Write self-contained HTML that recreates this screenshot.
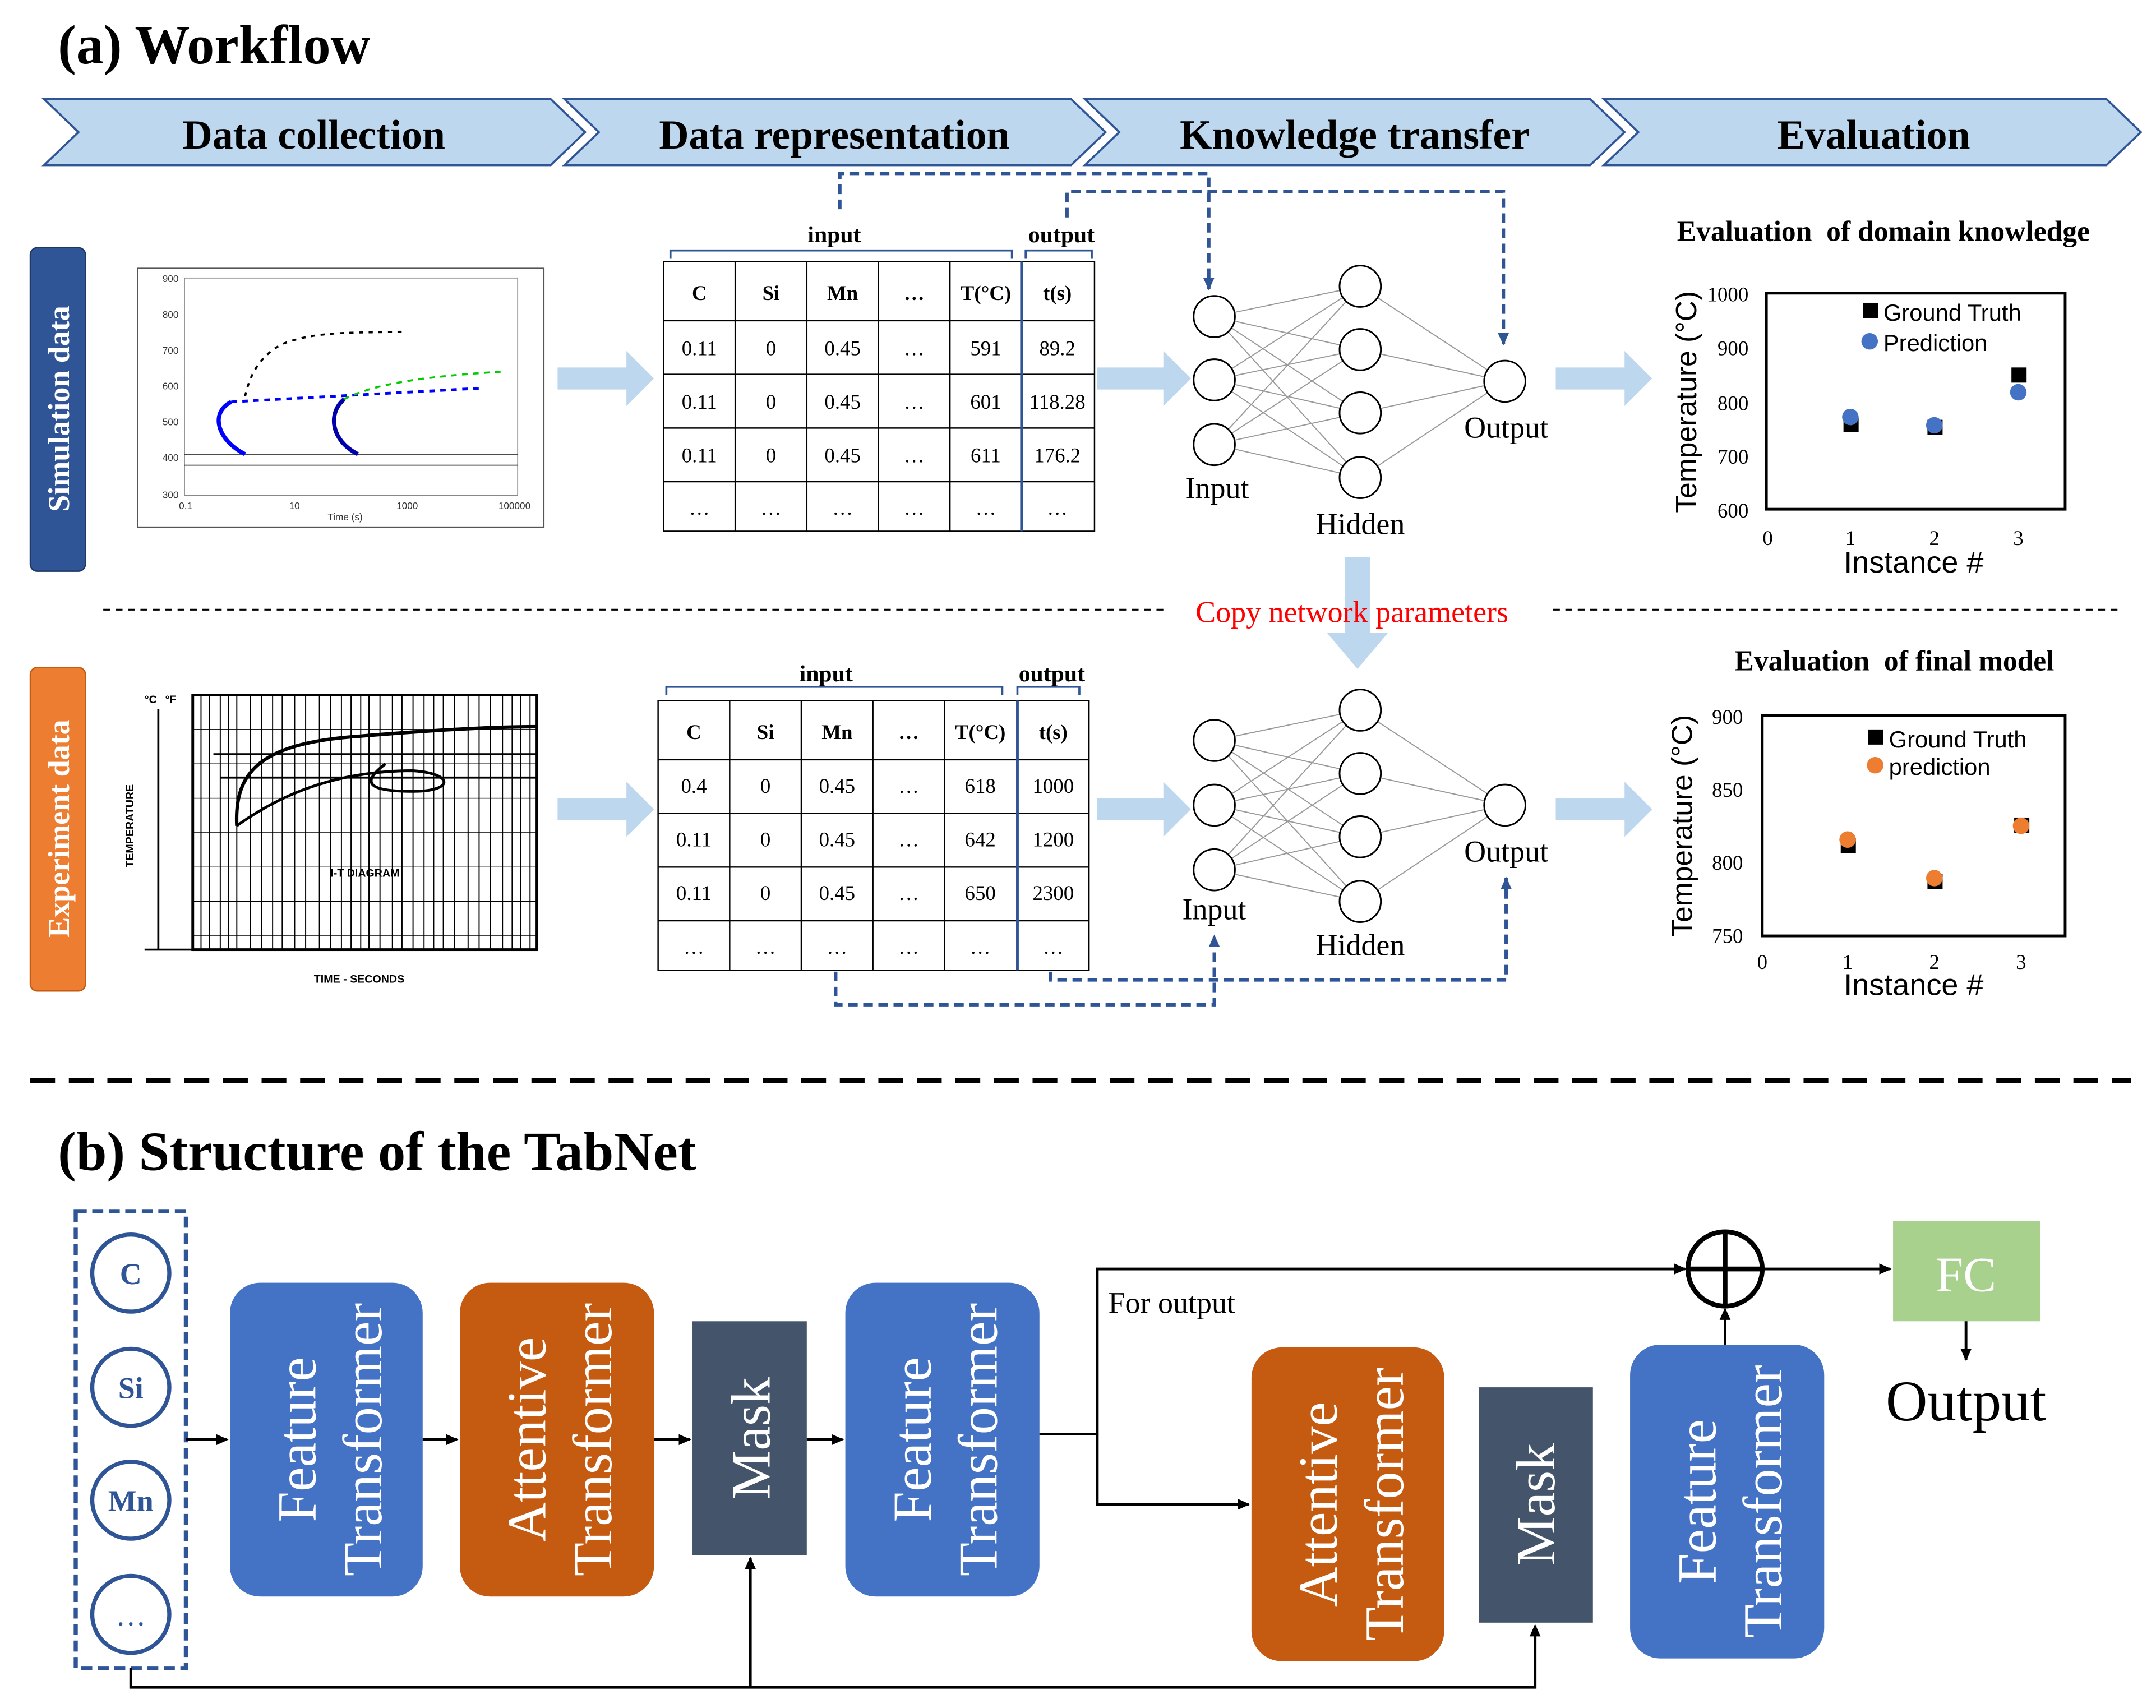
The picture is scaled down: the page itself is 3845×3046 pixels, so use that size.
<!DOCTYPE html>
<html><head><meta charset="utf-8"><style>html,body{margin:0;padding:0;background:#fff}svg{display:block}</style></head><body>
<svg width="3845" height="3046" viewBox="0 0 1566 1241" preserveAspectRatio="none" xmlns="http://www.w3.org/2000/svg" font-family="Liberation Serif, serif">
<defs>
<marker id="ab" markerWidth="10" markerHeight="10" refX="8" refY="5" orient="auto" markerUnits="userSpaceOnUse"><path d="M0,1 L9,5 L0,9 z" fill="#2f5597"/></marker>
<marker id="ak" markerWidth="10" markerHeight="10" refX="8" refY="5" orient="auto" markerUnits="userSpaceOnUse"><path d="M0,1 L9,5 L0,9 z" fill="#000"/></marker>
</defs>
<rect width="1566" height="1241" fill="#fff"/>
<text x="42" y="46" font-size="40" font-weight="bold">(a) Workflow</text>
<g fill="#bdd7ee" stroke="#2f5597" stroke-width="1.5">
<polygon points="32,72 400,72 425,96 400,120 32,120 57,96"/>
<polygon points="410,72 778,72 803,96 778,120 410,120 435,96"/>
<polygon points="788,72 1155,72 1180,96 1155,120 788,120 813,96"/>
<polygon points="1165,72 1530,72 1555,96 1530,120 1165,120 1190,96"/>
</g>
<g font-size="30" font-weight="bold" text-anchor="middle">
<text x="228" y="108">Data collection</text><text x="606" y="108">Data representation</text>
<text x="984" y="108">Knowledge transfer</text><text x="1361" y="108">Evaluation</text></g>
<rect x="22" y="180" width="40" height="235" rx="5" fill="#2f5597" stroke="#1f3864"/>
<text transform="rotate(-90 42 297)" x="42" y="305" font-size="22" font-weight="bold" fill="#fff" text-anchor="middle">Simulation data</text>
<rect x="22" y="485" width="40" height="235" rx="5" fill="#ed7d31" stroke="#c55a11"/>
<text transform="rotate(-90 42 602)" x="42" y="610" font-size="22" font-weight="bold" fill="#fff" text-anchor="middle">Experiment data</text>
<!-- sim chart -->
<rect x="100" y="195" width="295" height="188" fill="#fff" stroke="#555"/>
<rect x="134" y="202" width="242" height="158" fill="none" stroke="#888" stroke-width="0.7"/>
<g font-size="7" font-family="Liberation Sans" fill="#333"><text x="118" y="205">900</text><text x="118" y="231">800</text><text x="118" y="257">700</text><text x="118" y="283">600</text><text x="118" y="309">500</text><text x="118" y="335">400</text><text x="118" y="362">300</text><text x="130" y="370">0.1</text><text x="210" y="370">10</text><text x="288" y="370">1000</text><text x="362" y="370">100000</text><text x="238" y="378">Time (s)</text></g>
<line x1="134" y1="330" x2="376" y2="330" stroke="#333" stroke-width="0.7"/><line x1="134" y1="338" x2="376" y2="338" stroke="#333" stroke-width="0.7"/>
<path d="M178,288 C182,270 190,258 205,250 C230,240 260,242 295,241" fill="none" stroke="#000" stroke-width="1.5" stroke-dasharray="3 4"/>
<path d="M168,292 L350,282" fill="none" stroke="#00f" stroke-width="2" stroke-dasharray="4 4"/>
<path d="M250,290 C270,280 300,274 365,270" fill="none" stroke="#0c0" stroke-width="1.5" stroke-dasharray="4 4"/>
<path d="M260,330 C240,320 238,300 250,290" fill="none" stroke="#00a" stroke-width="3"/>
<path d="M178,330 C158,320 152,300 168,292" fill="none" stroke="#00f" stroke-width="3"/>
<!-- block arrows -->
<g fill="#bdd7ee"><polygon points="405,267 455,267 455,255 475,275 455,295 455,283 405,283"/>
<polygon points="797,267 845,267 845,255 865,275 845,295 845,283 797,283"/>
<polygon points="1130,267 1180,267 1180,255 1200,275 1180,295 1180,283 1130,283"/>
<polygon points="405,580 455,580 455,568 475,588 455,608 455,596 405,596"/>
<polygon points="797,580 845,580 845,568 865,588 845,608 845,596 797,596"/>
<polygon points="1130,580 1180,580 1180,568 1200,588 1180,608 1180,596 1130,596"/>
<polygon points="977,405 995,405 995,460 1008,460 986,486 964,460 977,460"/></g>
<!-- tables -->
<g stroke="#000" stroke-width="1" fill="none">
<rect x="482" y="190" width="313" height="196"/>
<path d="M482,233H795M482,272H795M482,311H795M482,350H795M534,190V386M586,190V386M638,190V386M690,190V386"/>
<rect x="478" y="509" width="313" height="196"/>
<path d="M478,552H791M478,591H791M478,630H791M478,669H791M530,509V705M582,509V705M634,509V705M686,509V705"/>
</g>
<line x1="742" y1="190" x2="742" y2="386" stroke="#2f5597" stroke-width="2"/>
<line x1="739" y1="509" x2="739" y2="705" stroke="#2f5597" stroke-width="2"/>
<g stroke="#2f5597" stroke-width="1.5" fill="none"><path d="M487,188V182H735V188"/><path d="M745,188V182H793V188"/>
<path d="M484,505V499H728V505"/><path d="M739,505V499H784V505"/></g>
<g font-size="17" font-weight="bold" text-anchor="middle"><text x="606" y="176">input</text><text x="771" y="176">output</text><text x="600" y="495">input</text><text x="764" y="495">output</text></g>
<g font-size="15" text-anchor="middle">
<g font-weight="bold"><text x="508" y="218">C</text><text x="560" y="218">Si</text><text x="612" y="218">Mn</text><text x="664" y="218">…</text><text x="716" y="218">T(°C)</text><text x="768" y="218">t(s)</text></g>
<text x="508" y="258">0.11</text><text x="560" y="258">0</text><text x="612" y="258">0.45</text><text x="664" y="258">…</text><text x="716" y="258">591</text><text x="768" y="258">89.2</text>
<text x="508" y="297">0.11</text><text x="560" y="297">0</text><text x="612" y="297">0.45</text><text x="664" y="297">…</text><text x="716" y="297">601</text><text x="768" y="297">118.28</text>
<text x="508" y="336">0.11</text><text x="560" y="336">0</text><text x="612" y="336">0.45</text><text x="664" y="336">…</text><text x="716" y="336">611</text><text x="768" y="336">176.2</text>
<text x="508" y="374">…</text><text x="560" y="374">…</text><text x="612" y="374">…</text><text x="664" y="374">…</text><text x="716" y="374">…</text><text x="768" y="374">…</text>
<g font-weight="bold"><text x="504" y="537">C</text><text x="556" y="537">Si</text><text x="608" y="537">Mn</text><text x="660" y="537">…</text><text x="712" y="537">T(°C)</text><text x="765" y="537">t(s)</text></g>
<text x="504" y="576">0.4</text><text x="556" y="576">0</text><text x="608" y="576">0.45</text><text x="660" y="576">…</text><text x="712" y="576">618</text><text x="765" y="576">1000</text>
<text x="504" y="615">0.11</text><text x="556" y="615">0</text><text x="608" y="615">0.45</text><text x="660" y="615">…</text><text x="712" y="615">642</text><text x="765" y="615">1200</text>
<text x="504" y="654">0.11</text><text x="556" y="654">0</text><text x="608" y="654">0.45</text><text x="660" y="654">…</text><text x="712" y="654">650</text><text x="765" y="654">2300</text>
<text x="504" y="693">…</text><text x="556" y="693">…</text><text x="608" y="693">…</text><text x="660" y="693">…</text><text x="712" y="693">…</text><text x="765" y="693">…</text>
</g>
<!-- NN -->
<g stroke="#999" stroke-width="0.8">
<path d="M882,230L988,208M882,230L988,254M882,230L988,300M882,230L988,347M882,276L988,208M882,276L988,254M882,276L988,300M882,276L988,347M882,323L988,208M882,323L988,254M882,323L988,300M882,323L988,347M988,208L1093,277M988,254L1093,277M988,300L1093,277M988,347L1093,277"/>
<path d="M882,538L988,516M882,538L988,562M882,538L988,608M882,538L988,655M882,585L988,516M882,585L988,562M882,585L988,608M882,585L988,655M882,632L988,516M882,632L988,562M882,632L988,608M882,632L988,655M988,516L1093,585M988,562L1093,585M988,608L1093,585M988,655L1093,585"/></g>
<g fill="#fff" stroke="#000" stroke-width="1.2">
<circle cx="882" cy="230" r="15"/><circle cx="882" cy="276" r="15"/><circle cx="882" cy="323" r="15"/>
<circle cx="988" cy="208" r="15"/><circle cx="988" cy="254" r="15"/><circle cx="988" cy="300" r="15"/><circle cx="988" cy="347" r="15"/><circle cx="1093" cy="277" r="15"/>
<circle cx="882" cy="538" r="15"/><circle cx="882" cy="585" r="15"/><circle cx="882" cy="632" r="15"/>
<circle cx="988" cy="516" r="15"/><circle cx="988" cy="562" r="15"/><circle cx="988" cy="608" r="15"/><circle cx="988" cy="655" r="15"/><circle cx="1093" cy="585" r="15"/></g>
<g font-size="22" text-anchor="middle"><text x="884" y="362">Input</text><text x="988" y="388">Hidden</text><text x="1094" y="318">Output</text>
<text x="882" y="668">Input</text><text x="988" y="694">Hidden</text><text x="1094" y="626">Output</text></g>
<g stroke="#2f5597" stroke-width="2.5" fill="none" stroke-dasharray="7 4">
<path d="M610,152V126H878V210" marker-end="url(#ab)"/>
<path d="M775,158V139H1092V250" marker-end="url(#ab)"/>
<path d="M607,706V730H882V680" marker-end="url(#ab)"/>
<path d="M763,706V712H1094V638" marker-end="url(#ab)"/></g>
<g stroke="#000" stroke-width="1.3" stroke-dasharray="5 4"><line x1="75" y1="443" x2="845" y2="443"/><line x1="1128" y1="443" x2="1540" y2="443"/></g>
<text x="982" y="452" font-size="22" fill="#f00" text-anchor="middle">Copy network parameters</text>
<!-- eval 1 -->
<text x="1368" y="175" font-size="21" font-weight="bold" text-anchor="middle" xml:space="preserve">Evaluation  of domain knowledge</text>
<rect x="1283" y="213" width="217" height="157" fill="none" stroke="#000" stroke-width="2"/>
<g font-size="15" text-anchor="end"><text x="1270" y="219">1000</text><text x="1270" y="258">900</text><text x="1270" y="298">800</text><text x="1270" y="337">700</text><text x="1270" y="376">600</text></g>
<g font-size="15" text-anchor="middle"><text x="1284" y="396">0</text><text x="1344" y="396">1</text><text x="1405" y="396">2</text><text x="1466" y="396">3</text></g>
<text x="1390" y="416" font-size="22" font-family="Liberation Sans" text-anchor="middle">Instance #</text>
<text transform="rotate(-90 1225 292)" x="1225" y="299" font-size="21" font-family="Liberation Sans" text-anchor="middle">Temperature (°C)</text>
<rect x="1353" y="220" width="11" height="11"/><text x="1368" y="233" font-size="17" font-family="Liberation Sans">Ground Truth</text>
<circle cx="1358" cy="248" r="6" fill="#4472c4"/><text x="1368" y="255" font-size="17" font-family="Liberation Sans">Prediction</text>
<rect x="1339" y="303" width="11" height="11"/><rect x="1400" y="305" width="11" height="11"/><rect x="1461" y="267" width="11" height="11"/>
<circle cx="1344" cy="303" r="6" fill="#4472c4"/><circle cx="1405" cy="309" r="6" fill="#4472c4"/><circle cx="1466" cy="285" r="6" fill="#4472c4"/>
<!-- eval 2 -->
<text x="1376" y="487" font-size="21" font-weight="bold" text-anchor="middle" xml:space="preserve">Evaluation  of final model</text>
<rect x="1280" y="520" width="220" height="160" fill="none" stroke="#000" stroke-width="2"/>
<g font-size="15" text-anchor="end"><text x="1266" y="526">900</text><text x="1266" y="579">850</text><text x="1266" y="632">800</text><text x="1266" y="685">750</text></g>
<g font-size="15" text-anchor="middle"><text x="1280" y="704">0</text><text x="1342" y="704">1</text><text x="1405" y="704">2</text><text x="1468" y="704">3</text></g>
<text x="1390" y="723" font-size="22" font-family="Liberation Sans" text-anchor="middle">Instance #</text>
<text transform="rotate(-90 1222 600)" x="1222" y="607" font-size="21" font-family="Liberation Sans" text-anchor="middle">Temperature (°C)</text>
<rect x="1357" y="530" width="11" height="11"/><text x="1372" y="543" font-size="17" font-family="Liberation Sans">Ground Truth</text>
<circle cx="1362" cy="556" r="6" fill="#ed7d31"/><text x="1372" y="563" font-size="17" font-family="Liberation Sans">prediction</text>
<rect x="1337" y="609" width="11" height="11"/><rect x="1400" y="635" width="11" height="11"/><rect x="1463" y="594" width="11" height="11"/>
<circle cx="1342" cy="610" r="6" fill="#ed7d31"/><circle cx="1405" cy="638" r="6" fill="#ed7d31"/><circle cx="1468" cy="600" r="6" fill="#ed7d31"/>
<!-- experiment chart -->
<g stroke="#000" fill="none">
<rect x="140" y="505" width="250" height="185" stroke-width="2"/>
<path d="M146,505V690M152,505V690M160,505V690M166,505V690M172,505V690M182,505V690M190,505V690M198,505V690M205,505V690M214,505V690M222,505V690M232,505V690M240,505V690M248,505V690M255,505V690M262,505V690M268,505V690M276,505V690M285,505V690M292,505V690M300,505V690M308,505V690M315,505V690M322,505V690M330,505V690M340,505V690M348,505V690M356,505V690M365,505V690M372,505V690M378,505V690M385,505V690" stroke-width="0.8"/>
<path d="M140,530H390M140,555H390M140,580H390M140,605H390M140,630H390M140,655H390M140,680H390" stroke-width="0.6"/>
<path d="M172,600C170,560 190,540 260,535C320,530 360,528 390,528" stroke-width="2.5"/>
<path d="M172,600C200,580 240,560 300,560C330,562 330,575 300,575C270,575 260,570 280,555" stroke-width="2"/>
<path d="M160,565H390M155,548H390" stroke-width="1.5"/>
<path d="M115,515V690M105,690H140" stroke-width="1.5"/>
</g>
<g font-size="8" font-family="Liberation Sans" font-weight="bold"><text x="105" y="511">°C</text><text x="120" y="511">°F</text><text x="228" y="714">TIME - SECONDS</text><text x="240" y="637">I-T DIAGRAM</text>
<text x="97" y="600" transform="rotate(-90 97 600)" text-anchor="middle">TEMPERATURE</text></g>
<line x1="22" y1="785" x2="1548" y2="785" stroke="#000" stroke-width="3.5" stroke-dasharray="18 10"/>
<text x="42" y="850" font-size="40" font-weight="bold">(b) Structure of the TabNet</text>
<rect x="55" y="880" width="80" height="332" fill="none" stroke="#2f5597" stroke-width="3" stroke-dasharray="8 4"/>
<g fill="#fff" stroke="#2f5597" stroke-width="3"><circle cx="95" cy="925" r="28"/><circle cx="95" cy="1008" r="28"/><circle cx="95" cy="1090" r="28"/><circle cx="95" cy="1173" r="28"/></g>
<g font-size="22" font-weight="bold" fill="#2f5597" text-anchor="middle"><text x="95" y="933">C</text><text x="95" y="1016">Si</text><text x="95" y="1098">Mn</text><text x="95" y="1181" font-weight="normal">…</text></g>
<rect x="167" y="932" width="140" height="228" rx="22" fill="#4472c4"/>
<rect x="334" y="932" width="141" height="228" rx="22" fill="#c55a11"/>
<rect x="503" y="960" width="83" height="170" fill="#44546a"/>
<rect x="614" y="932" width="141" height="228" rx="22" fill="#4472c4"/>
<rect x="909" y="979" width="140" height="228" rx="22" fill="#c55a11"/>
<rect x="1074" y="1008" width="83" height="171" fill="#44546a"/>
<rect x="1184" y="977" width="141" height="228" rx="22" fill="#4472c4"/>
<g font-size="40" fill="#fff" text-anchor="middle">
<text transform="rotate(-90 237 1046)" x="237" y="1046"><tspan x="237" dy="-8">Feature</tspan><tspan x="237" dy="48">Transformer</tspan></text>
<text transform="rotate(-90 404 1046)" x="404" y="1046"><tspan x="404" dy="-8">Attentive</tspan><tspan x="404" dy="48">Transformer</tspan></text>
<text transform="rotate(-90 545 1045)" x="545" y="1059">Mask</text>
<text transform="rotate(-90 684 1046)" x="684" y="1046"><tspan x="684" dy="-8">Feature</tspan><tspan x="684" dy="48">Transformer</tspan></text>
<text transform="rotate(-90 979 1093)" x="979" y="1093"><tspan x="979" dy="-8">Attentive</tspan><tspan x="979" dy="48">Transformer</tspan></text>
<text transform="rotate(-90 1115 1093)" x="1115" y="1107">Mask</text>
<text transform="rotate(-90 1254 1091)" x="1254" y="1091"><tspan x="1254" dy="-8">Feature</tspan><tspan x="1254" dy="48">Transformer</tspan></text>
</g>
<rect x="1375" y="887" width="107" height="73" fill="#a9d18e"/>
<text x="1428" y="938" font-size="36" fill="#fff" text-anchor="middle">FC</text>
<text x="1428" y="1032" font-size="42" text-anchor="middle">Output</text>
<circle cx="1253" cy="922" r="27" fill="#fff" stroke="#000" stroke-width="3.5"/>
<path d="M1226,922H1280M1253,895V949" stroke="#000" stroke-width="3.5"/>
<g stroke="#000" stroke-width="2" fill="none">
<path d="M135,1046H165" marker-end="url(#ak)"/><path d="M307,1046H332" marker-end="url(#ak)"/>
<path d="M475,1046H501" marker-end="url(#ak)"/><path d="M586,1046H612" marker-end="url(#ak)"/>
<path d="M755,1042H797V922H1224" marker-end="url(#ak)"/>
<path d="M797,1042V1093H907" marker-end="url(#ak)"/>
<path d="M1280,922H1373" marker-end="url(#ak)"/>
<path d="M1253,977V951" marker-end="url(#ak)"/>
<path d="M1428,960V988" marker-end="url(#ak)"/>
<path d="M95,1212V1226H1115V1181" marker-end="url(#ak)"/>
<path d="M545,1226V1132" marker-end="url(#ak)"/>
</g>
<text x="805" y="954" font-size="22">For output</text>
</svg>
</body></html>
